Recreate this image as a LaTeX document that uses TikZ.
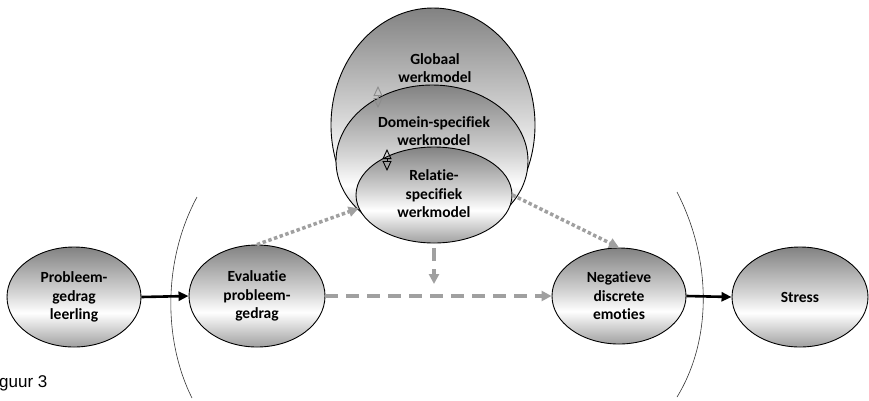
\documentclass[tikz,border=0pt]{standalone}
\usepackage{fontspec}
\setmainfont{Carlito}[RawFeature=-liga]
\newfontfamily\arialf{Liberation Sans}
\usetikzlibrary{shapes.geometric,arrows.meta}
\definecolor{gtop}{HTML}{828282}
\definecolor{gbot}{HTML}{A0A0A0}
\definecolor{gmid}{HTML}{D5D5D5}
\definecolor{arrgray}{HTML}{A0A0A0}
\pgfdeclareverticalshading{ellsh}{100bp}{color(0bp)=(gbot); color(25bp)=(gbot); color(42bp)=(white); color(52bp)=(gmid); color(75bp)=(gtop); color(100bp)=(gtop)}
\tikzset{
  ell/.style={ellipse, draw=black, line width=0.9pt, shading=ellsh, inner sep=0pt},
  lbl/.style={align=center, font=\fontsize{15.5}{18.5}\selectfont\bfseries},
  blackarr/.style={line width=2.6pt, -{Triangle[length=10pt,width=9pt]}},
  dotarr/.style={arrgray, line width=3.5pt, dash pattern=on 3.5pt off 2.5pt, -{Triangle[length=10pt,width=10pt]}},
  dasharr/.style={arrgray, line width=3.5pt, dash pattern=on 13pt off 8pt, -{Triangle[length=10pt,width=10pt]}},
  dbl/.style={line width=0.9pt, {Triangle[open,length=10pt,width=9pt]}-{Triangle[open,length=10pt,width=9pt]}},
  paren/.style={line width=0.6pt, draw=black!80}
}
\begin{document}
\begin{tikzpicture}[x=1pt,y=-1pt]
\useasboundingbox (0,0) rectangle (869,400);
% parentheses
\draw[paren] (197,197) .. controls (163,260) and (163,340) .. (192,398);
\draw[paren] (677,192) .. controls (712,260) and (712,340) .. (677,397);
% nested ellipses
\node[ell, minimum width=204pt, minimum height=234pt] (gl) at (433,125) {};
\node[ell, minimum width=192pt, minimum height=152pt] (dm) at (432,161) {};
\node[ell, minimum width=156pt, minimum height=96pt] (in) at (434,195) {};
\node[lbl] (glt) at (435,68) {Globaal\\werkmodel};
\node[lbl] (dmt) at (434,131) {Domein-specifiek\\werkmodel};
\node[lbl] (int) at (434,194) {Relatie-\\specifiek\\werkmodel};
% double arrows
\coordinate (d1a) at (378,86);
\coordinate (d1b) at (378,108);
\draw[dbl, draw=black!45] (d1a) -- (d1b);
\coordinate (d2a) at (387,149);
\coordinate (d2b) at (387,171);
\draw[dbl, draw=black] (d2a) -- (d2b);
% main ellipses
\node[ell, minimum width=134pt, minimum height=100pt] (pb) at (74,297) {};
\node[lbl] (pbt) at (pb) {Probleem-\\gedrag\\leerling};
\node[ell, minimum width=136pt, minimum height=102pt] (ev) at (257,296) {};
\node[lbl] (evt) at (ev) {Evaluatie\\probleem-\\gedrag};
\node[ell, minimum width=134pt, minimum height=96pt] (ng) at (619,296) {};
\node[lbl] (ngt) at (ng) {Negatieve\\discrete\\emoties};
\node[ell, minimum width=136pt, minimum height=100pt] (st) at (800,297) {};
\node[lbl] (stt) at (st) {Stress};
% arrows
\draw[blackarr] (pb.east) -- (ev.west);
\draw[blackarr] (ng.east) -- (st.west);
\draw[dotarr] (ev.north) -- (in.190);
\draw[dotarr] (in.east) -- (ng.north);
\draw[dasharr] (ev.east) -- (ng.west);
\coordinate (vd) at (434,284);
\draw[dasharr, shorten <=5pt] (in.south) -- (vd);
% caption fragment
\node[anchor=base west, inner sep=0pt, font=\arialf\fontsize{17}{20}\selectfont] (cap) at (-1,387) {guur 3};
\end{tikzpicture}
\end{document}
